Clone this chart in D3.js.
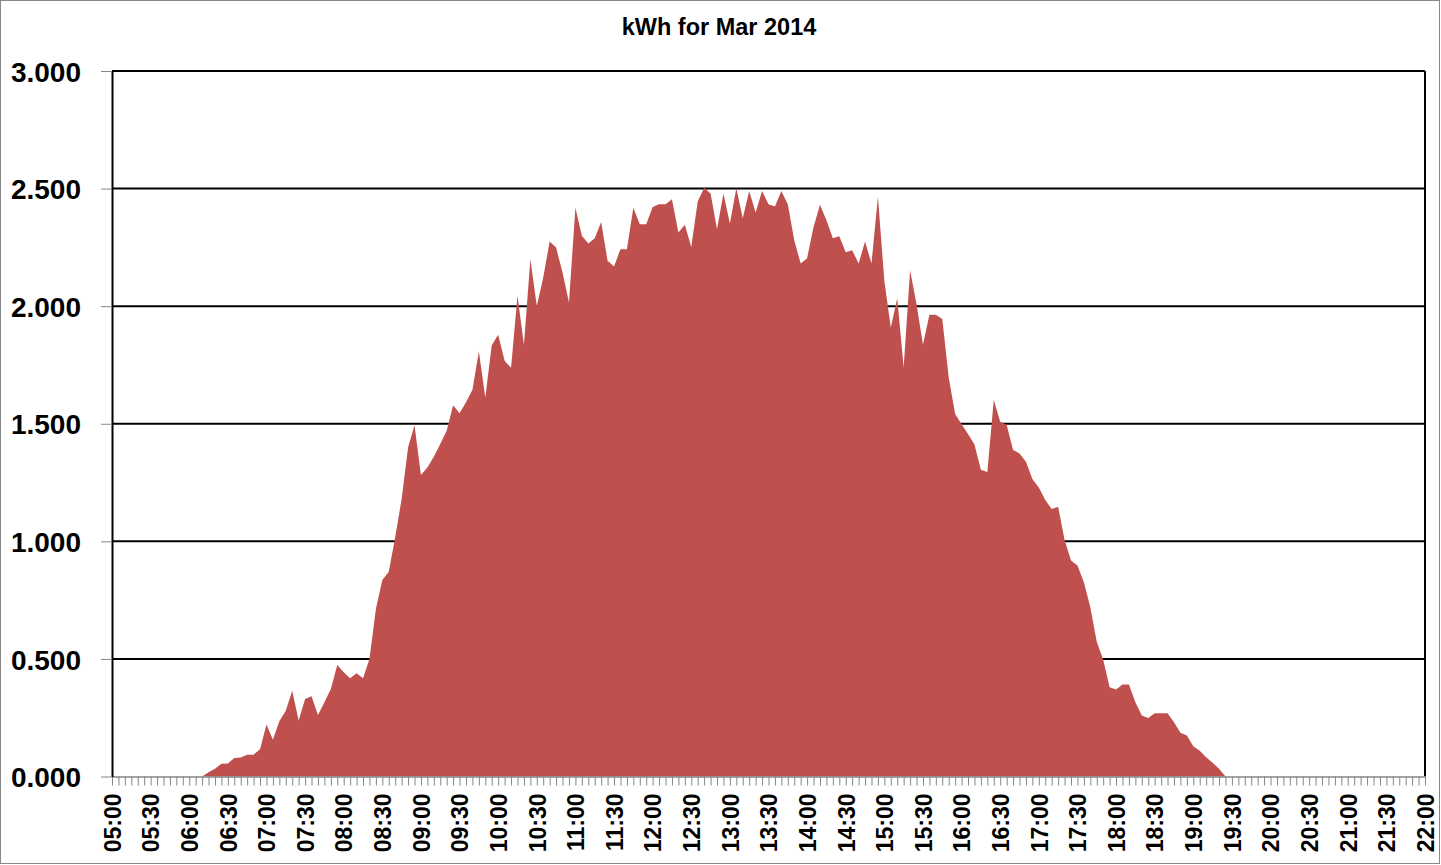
<!DOCTYPE html>
<html><head><meta charset="utf-8">
<script src="https://cdn.jsdelivr.net/npm/d3@7"></script>
<style>html,body{margin:0;padding:0;background:#fff}svg{display:block}</style>
</head><body>
<script>
// ---- data ----
const chartTitle = "kWh for Mar 2014";
const startTime = "05:00";
const stepMinutes = 5;
const kwh = [
  0,0,0,0,0,0,0,0,0,0,0,0,                                                        // 05:00-05:55
  0,0,0, 0.018,0.033,0.054,0.055,0.079,0.081,0.092,0.093,0.116,                  // 06:00-06:55
  0.221,0.156,0.235,0.280,0.365,0.238,0.330,0.341,0.262,0.316,0.372,0.474,        // 07
  0.443,0.418,0.439,0.418,0.500,0.712,0.836,0.871,1.017,1.180,1.399,1.494,        // 08
  1.282,1.314,1.360,1.414,1.470,1.579,1.545,1.591,1.645,1.807,1.612,1.834,        // 09
  1.878,1.768,1.738,2.044,1.836,2.200,2.001,2.122,2.275,2.249,2.143,2.016,        // 10
  2.419,2.299,2.266,2.289,2.358,2.193,2.169,2.242,2.242,2.419,2.348,2.348,        // 11
  2.422,2.433,2.433,2.455,2.313,2.346,2.252,2.445,2.504,2.479,2.327,2.479,        // 12
  2.351,2.501,2.374,2.490,2.398,2.490,2.433,2.424,2.490,2.433,2.280,2.181,        // 13
  2.204,2.337,2.431,2.365,2.289,2.297,2.229,2.238,2.181,2.275,2.181,2.465,        // 14
  2.108,1.909,2.034,1.739,2.153,2.008,1.836,1.963,1.963,1.945,1.697,1.541,        // 15
  1.498,1.456,1.412,1.304,1.295,1.601,1.509,1.496,1.388,1.374,1.338,1.265,        // 16
  1.229,1.176,1.137,1.147,1.006,0.918,0.897,0.826,0.720,0.573,0.496,0.380,        // 17
  0.370,0.391,0.391,0.316,0.259,0.249,0.269,0.269,0.269,0.231,0.186,0.174,        // 18
  0.129,0.110,0.082,0.058,0.033,0,0,0,0,0,0,0,                                    // 19
  0,0,0,0,0,0,0,0,0,0,0,0,                                                        // 20
  0,0,0,0,0,0,0,0,0,0,0,0,                                                        // 21
  0                                                                               // 22:00
];
const xTickLabels = ["05:00","05:30","06:00","06:30","07:00","07:30","08:00","08:30","09:00","09:30",
  "10:00","10:30","11:00","11:30","12:00","12:30","13:00","13:30","14:00","14:30","15:00","15:30",
  "16:00","16:30","17:00","17:30","18:00","18:30","19:00","19:30","20:00","20:30","21:00","21:30","22:00"];
const yTicks = [0, 0.5, 1, 1.5, 2, 2.5, 3];

// ---- layout ----
const W = 1441, H = 865;
const L = 112, R = 1425, T = 71, B = 776.5;
const FONT = "'Liberation Sans', Arial, sans-serif";

const parse = d3.timeParse("%H:%M");
const t0 = parse(startTime);
const times = kwh.map((d, i) => d3.timeMinute.offset(t0, i * stepMinutes));
const data = kwh.map((v, i) => ({t: times[i], v}));

const x = d3.scaleTime().domain([times[0], times[times.length - 1]]).range([L, R]);
const y = d3.scaleLinear().domain([0, 3]).range([B, T]);

const svg = d3.select("body").append("svg").attr("width", W).attr("height", H);

svg.append("rect").attr("x", 0.5).attr("y", 0.5).attr("width", 1439).attr("height", 863)
  .attr("fill", "#fff").attr("stroke", "#888").attr("stroke-width", 1);

// title
svg.append("text").attr("x", 719).attr("y", 35)
  .attr("text-anchor", "middle").attr("font-family", FONT).attr("font-weight", "bold")
  .attr("font-size", 23.5).attr("fill", "#000").text(chartTitle);

// gridlines
svg.append("g").selectAll("line").data(yTicks.filter(d => d > 0)).join("line")
  .attr("x1", L).attr("x2", R).attr("y1", d => y(d)).attr("y2", d => y(d))
  .attr("stroke", "#000").attr("stroke-width", 2);
svg.append("line").attr("x1", R).attr("x2", R).attr("y1", T).attr("y2", B)
  .attr("stroke", "#000").attr("stroke-width", 2);

// area
const area = d3.area().x(d => x(d.t)).y0(y(0)).y1(d => y(d.v));
svg.append("path").datum(data).attr("d", area).attr("fill", "#C0504D");

// x minor ticks axis
const gx = svg.append("g").attr("transform", `translate(0,${B})`)
  .call(d3.axisBottom(x).tickValues(times).tickFormat("").tickSize(9).tickSizeOuter(0));
gx.select(".domain").attr("stroke", "#868686").attr("stroke-width", 1.5);
gx.selectAll(".tick line").attr("stroke", "#868686").attr("stroke-width", 1);

// x labels
const gxl = svg.append("g").attr("transform", `translate(0,${B})`)
  .call(d3.axisBottom(x).tickValues(xTickLabels.map(parse)).tickFormat(d3.timeFormat("%H:%M")).tickSize(0).tickSizeOuter(0));
gxl.select(".domain").remove();
gxl.selectAll(".tick text")
  .attr("y", 0).attr("x", -17).attr("dy", "0.36em")
  .attr("transform", "rotate(-90)").style("text-anchor", "end")
  .attr("font-family", FONT).attr("font-weight", "bold").attr("font-size", 23).attr("fill", "#000");

// y axis
const gy = svg.append("g").attr("transform", `translate(${L},0)`)
  .call(d3.axisLeft(y).tickValues(yTicks).tickFormat(d3.format(".3f")).tickSize(11).tickSizeOuter(0).tickPadding(20));
gy.select(".domain").attr("stroke", "#000").attr("stroke-width", 2);
gy.selectAll(".tick line").attr("stroke", "#868686").attr("stroke-width", 1);
gy.selectAll(".tick text").attr("font-family", FONT).attr("font-weight", "bold")
  .attr("font-size", 28).attr("fill", "#000").attr("dy", "0.36em");
</script>
</body></html>
